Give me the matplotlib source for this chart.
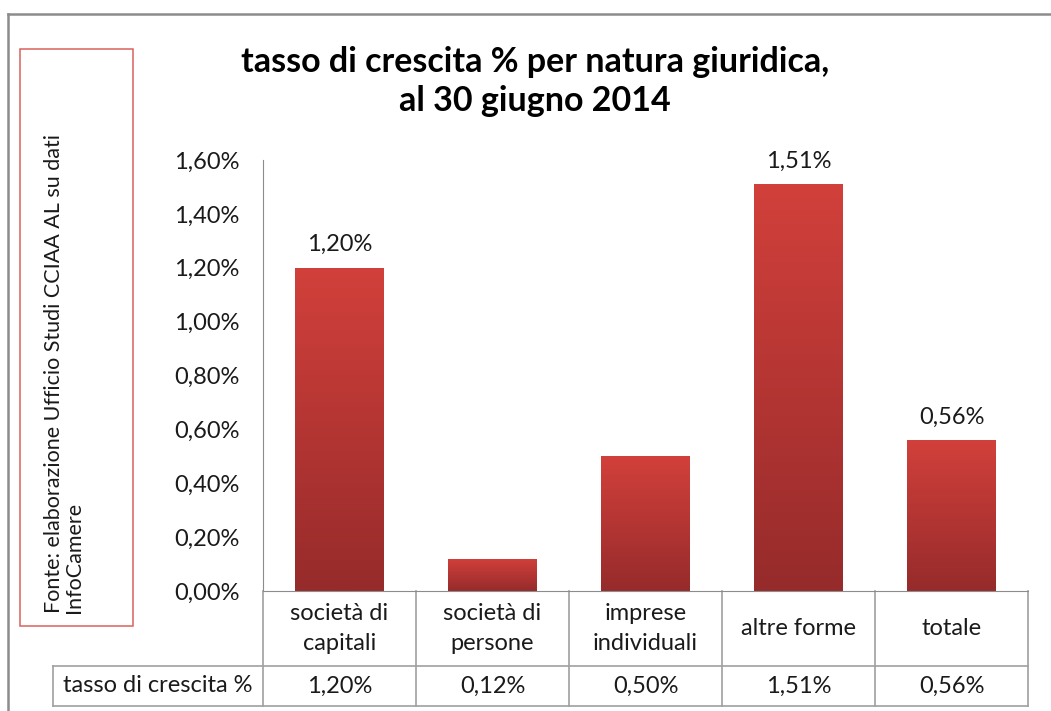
import numpy as np
import matplotlib
matplotlib.use("Agg")
import matplotlib.pyplot as plt
from matplotlib.patches import Rectangle
from matplotlib.lines import Line2D
from matplotlib.colors import LinearSegmentedColormap
import matplotlib.transforms as mtransforms

plt.rcParams['font.family'] = ['Lato', 'DejaVu Sans']

# data
categories = ["società di\ncapitali", "società di\npersone", "imprese\nindividuali",
              "altre forme", "totale"]
values = [1.20, 0.12, 0.50, 1.51, 0.56]
value_labels = ["1,20%", "0,12%", "0,50%", "1,51%", "0,56%"]
labelled = [0, 3, 4]   # bars with a data label above them
row_label = "tasso di crescita %"
yticks = [0.0, 0.2, 0.4, 0.6, 0.8, 1.0, 1.2, 1.4, 1.6]

W, H = 1051, 711
fig = plt.figure(figsize=(W / 100, H / 100), dpi=100)


def px(x, y):
    # pixel position (from top-left) -> figure fraction
    return x / W, 1 - y / H


gray = "#8c8c8c"
txt = "#1a1a1a"
fs = 17

# outer chart border (top and left visible)
fig.add_artist(Line2D([8 / W, 1.02], [1 - 14 / H, 1 - 14 / H], color=gray, lw=1.8,
                      transform=fig.transFigure))
fig.add_artist(Line2D([8 / W, 8 / W], [1 - 14 / H, -0.02], color=gray, lw=1.8,
                      transform=fig.transFigure))

ax = fig.add_axes([263 / W, (H - 591) / H, 765 / W, 431 / H])

cmap = LinearSegmentedColormap.from_list("bar", ["#962b2b", "#d2403b"])
grad = np.linspace(0, 1, 256).reshape(-1, 1)
bars = ax.bar(range(len(values)), values, width=0.58, color="none", edgecolor="none")
for b in bars:
    x0, w, h = b.get_x(), b.get_width(), b.get_height()
    im = ax.imshow(grad, cmap=cmap, origin="lower", aspect="auto",
                   extent=[x0, x0 + w, 0, h], zorder=2)
    im.set_clip_path(b)
ax.set_xlim(-0.5, len(categories) - 0.5)
ax.set_ylim(0, 1.6)

for i in labelled:
    ax.annotate(value_labels[i], (i, values[i]), xytext=(0, 9), textcoords="offset points",
                ha="center", va="bottom", fontsize=fs, color=txt)

ax.set_yticks(yticks)
ax.set_yticklabels([("%.2f%%" % t).replace(".", ",") for t in yticks],
                   fontsize=fs, color=txt)
ax.tick_params(axis="y", length=0, pad=17)
ax.set_xticks([])
for s in ["top", "right"]:
    ax.spines[s].set_visible(False)
ax.spines["left"].set_color(gray)
ax.spines["bottom"].set_color(gray)

# data table below the axes
tr = mtransforms.blended_transform_factory(ax.transData, ax.transAxes)
r1 = -75 / 431
r2 = -115 / 431
xl = -210 / 765
line_kw = dict(color="#a0a0a0", lw=1.2, clip_on=False)
n = len(categories)
for k in range(n + 1):
    ax.plot([k - 0.5, k - 0.5], [0, r2], transform=tr, **line_kw)
ax.plot([xl, 1], [r1, r1], transform=ax.transAxes, **line_kw)
ax.plot([xl, 1], [r2, r2], transform=ax.transAxes, **line_kw)
ax.plot([xl, xl], [r1, r2], transform=ax.transAxes, **line_kw)
for i, c in enumerate(categories):
    ax.text(i, r1 / 2, c, transform=tr, ha="center", va="center", fontsize=fs,
            color=txt, linespacing=1.5)
    ax.text(i, (r1 + r2) / 2, value_labels[i], transform=tr, ha="center", va="center",
            fontsize=fs, color=txt)
ax.text((xl + 0) / 2, (r1 + r2) / 2, row_label, transform=ax.transAxes, ha="center",
        va="center", fontsize=fs, color=txt)

# title
fig.text(*px(535, 62), "tasso di crescita % per natura giuridica,", ha="center", va="center",
         fontsize=24.5, fontweight="bold", color="black")
fig.text(*px(535, 101), "al 30 giugno 2014", ha="center", va="center",
         fontsize=24.5, fontweight="bold", color="black")

# source box
x0, y0 = px(20, 626)
x1, y1 = px(133, 49)
fig.add_artist(Rectangle((x0, y0), x1 - x0, y1 - y0, transform=fig.transFigure,
                         facecolor="none", edgecolor="#d9625e", lw=1.1))
fig.text(*px(64, 613), "Fonte: elaborazione Ufficio Studi CCIAA AL su dati\nInfoCamere",
         rotation=90, ha="center", va="bottom", multialignment="left",
         fontsize=15.5, color=txt, linespacing=1.05)

fig.savefig("out.png", dpi=100)
